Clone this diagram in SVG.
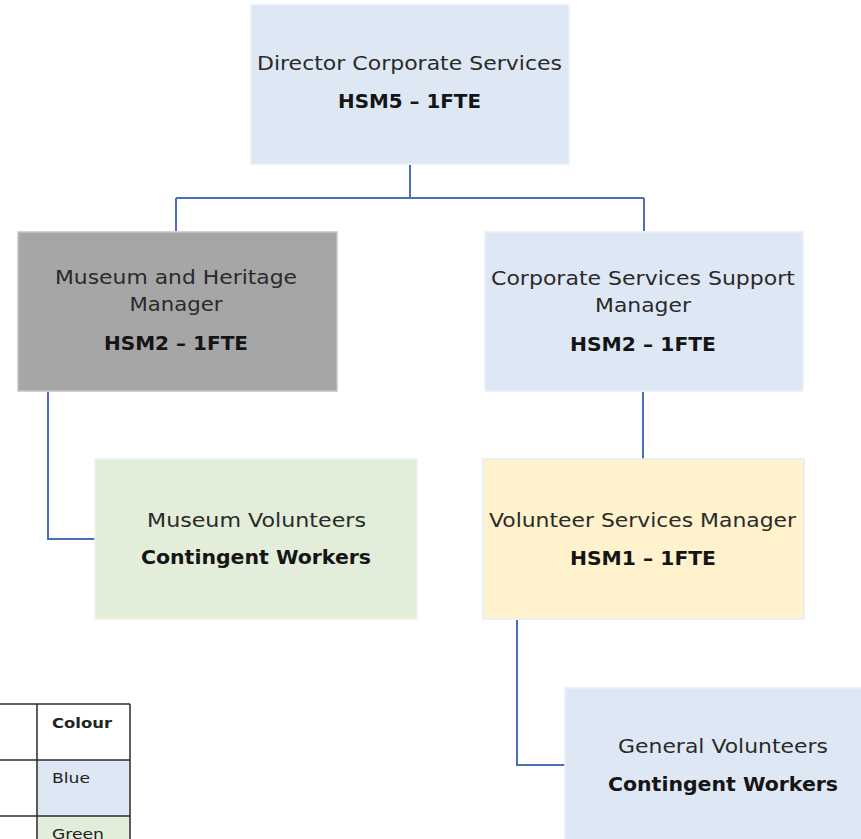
<svg xmlns="http://www.w3.org/2000/svg" width="861" height="839" viewBox="0 0 861 839">
  <style>
    .box { stroke-width: 1.5; }
    .blue { fill: #dee8f4; stroke: #e9f0f9; }
    .gray { fill: #a6a6a6; stroke: #c4c4c4; }
    .green { fill: #e2eed9; stroke: #edf4e8; }
    .yellow { fill: #fff2cc; stroke: #e4ecf6; }
    .t { font-family: "DejaVu Sans", "Liberation Sans", sans-serif; font-size: 19.5px; fill: #2a2a2a; text-anchor: middle; }
    .b { font-family: "DejaVu Sans", "Liberation Sans", sans-serif; font-size: 19.5px; font-weight: bold; fill: #151515; text-anchor: middle; }
    .conn { fill: none; stroke: #4a70bd; stroke-width: 2; }
    .grid { fill: none; stroke: #2b2b2b; stroke-width: 1.5; }
    .lt { font-family: "DejaVu Sans", "Liberation Sans", sans-serif; font-size: 14.5px; fill: #222; }
  </style>
  <rect width="861" height="839" fill="#ffffff"/>

  <g id="connectors">
    <path class="conn" d="M410,165 V198 M176,198 H644 M176,198 V231 M644,198 V231"/>
    <path class="conn" d="M48,392 V539 H95"/>
    <path class="conn" d="M643,392 V459"/>
    <path class="conn" d="M517,620 V765 H565"/>
  </g>

  <g id="node-director">
    <rect class="box blue" x="251" y="5" width="318" height="159"/>
    <text class="t" x="409.5" y="70" textLength="305" lengthAdjust="spacingAndGlyphs">Director Corporate Services</text>
    <text class="b" x="409.5" y="108" textLength="143" lengthAdjust="spacingAndGlyphs">HSM5 – 1FTE</text>
  </g>

  <g id="node-museum-manager">
    <rect class="box gray" x="18" y="232" width="319" height="159"/>
    <text class="t" x="176" y="284" textLength="242" lengthAdjust="spacingAndGlyphs">Museum and Heritage</text>
    <text class="t" x="176" y="311" textLength="93" lengthAdjust="spacingAndGlyphs">Manager</text>
    <text class="b" x="176" y="350" textLength="144" lengthAdjust="spacingAndGlyphs">HSM2 – 1FTE</text>
  </g>

  <g id="node-corporate-support">
    <rect class="box blue" x="485" y="232" width="318" height="159"/>
    <text class="t" x="643" y="285" textLength="304" lengthAdjust="spacingAndGlyphs">Corporate Services Support</text>
    <text class="t" x="643" y="312" textLength="96" lengthAdjust="spacingAndGlyphs">Manager</text>
    <text class="b" x="643" y="351" textLength="146" lengthAdjust="spacingAndGlyphs">HSM2 – 1FTE</text>
  </g>

  <g id="node-museum-volunteers">
    <rect class="box green" x="95" y="459" width="322" height="160"/>
    <text class="t" x="256.5" y="527" textLength="219" lengthAdjust="spacingAndGlyphs">Museum Volunteers</text>
    <text class="b" x="256" y="564" textLength="230" lengthAdjust="spacingAndGlyphs">Contingent Workers</text>
  </g>

  <g id="node-volunteer-services">
    <rect class="box yellow" x="483" y="459" width="321" height="160"/>
    <text class="t" x="642.5" y="527" textLength="307" lengthAdjust="spacingAndGlyphs">Volunteer Services Manager</text>
    <text class="b" x="643" y="565" textLength="146" lengthAdjust="spacingAndGlyphs">HSM1 – 1FTE</text>
  </g>

  <g id="node-general-volunteers">
    <rect class="box blue" x="565" y="688" width="316" height="170"/>
    <text class="t" x="723" y="753" textLength="210" lengthAdjust="spacingAndGlyphs">General Volunteers</text>
    <text class="b" x="723" y="791" textLength="230" lengthAdjust="spacingAndGlyphs">Contingent Workers</text>
  </g>

  <g id="legend">
    <rect x="37" y="760" width="93" height="56" fill="#dee8f4"/>
    <rect x="37" y="816" width="93" height="30" fill="#e2eed9"/>
    <path class="grid" d="M-2,704 H130 M-2,760 H130 M-2,816 H130 M37,704 V845 M130,704 V845"/>
    <text class="lt" x="52" y="728" font-weight="600" textLength="60" lengthAdjust="spacingAndGlyphs">Colour</text>
    <text class="lt" x="52" y="783" textLength="38" lengthAdjust="spacingAndGlyphs">Blue</text>
    <text class="lt" x="52" y="839" textLength="52" lengthAdjust="spacingAndGlyphs">Green</text>
  </g>
</svg>
